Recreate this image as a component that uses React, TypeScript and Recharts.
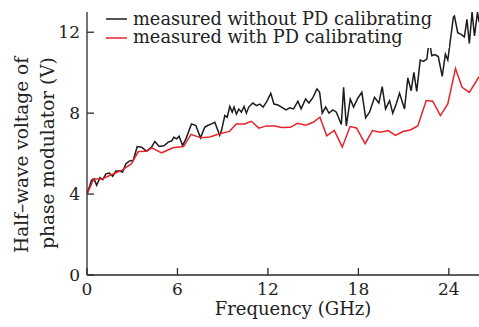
import { LineChart, Line, XAxis, YAxis, Legend } from "recharts";

// frequency (GHz) / half-wave voltage (V)
const withoutFreq = [0, 0.3, 0.46, 0.64, 0.86, 1.04, 1.26, 1.48, 1.7, 1.92, 2.14, 2.36, 2.58, 2.8, 3.07, 3.33, 3.62, 3.95, 4.28, 4.5, 4.79, 5.1, 5.39, 5.6, 5.76, 5.95, 6.11, 6.34, 6.56, 6.93, 7.22, 7.53, 7.81, 8.0, 8.26, 8.48, 8.8, 8.92, 9.14, 9.3, 9.47, 9.63, 9.75, 9.91, 10.07, 10.24, 10.42, 10.57, 10.73, 11.0, 11.24, 11.46, 11.68, 11.9, 12.19, 12.4, 12.67, 12.9, 13.2, 13.45, 13.7, 13.99, 14.2, 14.5, 14.72, 14.99, 15.25, 15.43, 15.6, 15.83, 16.05, 16.31, 16.54, 16.87, 17.02, 17.2, 17.46, 17.68, 17.97, 18.23, 18.48, 18.74, 19.07, 19.36, 19.58, 19.8, 20.07, 20.28, 20.51, 20.73, 21.06, 21.28, 21.5, 21.68, 21.87, 22.1, 22.32, 22.54, 22.7, 22.87, 23.08, 23.3, 23.56, 23.77, 23.93, 24.3, 24.37, 24.59, 24.84, 25.03, 25.2, 25.36, 25.54, 25.7, 25.9, 26];
const withoutVolt = [4.0, 4.68, 4.76, 4.43, 4.81, 4.71, 5.0, 5.04, 4.88, 5.14, 5.14, 5.09, 5.5, 5.63, 5.67, 6.35, 6.32, 6.12, 6.32, 6.6, 6.35, 6.39, 6.57, 6.62, 6.81, 6.73, 6.86, 6.4, 6.73, 7.47, 7.39, 6.78, 7.3, 7.39, 7.47, 7.55, 6.9, 7.14, 7.88, 7.8, 8.33, 8.05, 8.3, 7.96, 8.2, 8.05, 8.33, 8.0, 8.3, 8.5, 8.37, 8.45, 8.3, 8.54, 8.98, 8.45, 8.4, 8.3, 8.16, 8.26, 8.21, 8.59, 8.21, 8.7, 8.5, 8.78, 9.2, 9.03, 8.0, 8.3, 8.0, 8.16, 8.05, 7.44, 9.28, 7.37, 8.7, 8.3, 8.75, 9.03, 7.77, 8.05, 8.78, 8.5, 9.31, 8.21, 8.62, 8.0, 8.45, 8.98, 8.21, 9.74, 9.11, 10.02, 9.08, 10.62, 10.56, 10.67, 11.6, 10.84, 10.9, 10.8, 9.82, 10.92, 10.62, 12.75, 12.8, 11.98, 11.88, 11.77, 12.64, 11.44, 13.0, 11.82, 13.0, 12.5];

const withFreq = [0, 0.45, 1.0, 1.5, 2.3, 2.95, 3.4, 3.95, 4.3, 4.95, 5.7, 6.4, 6.9, 7.55, 8.15, 8.8, 9.45, 9.9, 10.45, 10.9, 11.4, 11.9, 12.45, 12.9, 13.5, 13.95, 14.5, 15.0, 15.45, 15.9, 16.4, 16.93, 17.45, 17.87, 18.45, 18.93, 19.45, 19.98, 20.46, 20.95, 21.44, 21.94, 22.5, 22.93, 23.44, 23.93, 24.44, 24.88, 25.36, 26];
const withVolt = [4.0, 4.75, 4.74, 4.92, 5.17, 5.5, 6.1, 6.12, 6.28, 6.04, 6.29, 6.35, 6.95, 6.78, 6.82, 6.98, 7.1, 7.47, 7.47, 7.6, 7.26, 7.37, 7.37, 7.29, 7.3, 7.5, 7.4, 7.55, 7.8, 6.88, 7.15, 6.32, 7.34, 7.27, 6.49, 7.14, 7.06, 7.14, 6.9, 7.09, 7.17, 7.37, 8.62, 8.59, 7.88, 8.46, 10.21, 9.28, 9.03, 9.8];

const xTicks = [0, 6, 12, 18, 24];
const yTicks = [0, 4, 8, 12];

const seriesNames = ["measured without PD calibrating", "measured with PD calibrating"];
const seriesColors = ["#1c1c1c", "#e8232b"];

const withoutData = withoutFreq.map((f, i) => ({ f, v: withoutVolt[i] }));
const withData = withFreq.map((f, i) => ({ f, v: withVolt[i] }));

const FONT = "'DejaVu Serif', serif";
const AXIS = "#2a2a2a";
const INK = "#222";

function LegendBox() {
  return (
    <svg width={345} height={48} style={{ display: "block", background: "#fff" }}>
      {seriesNames.map((n, i) => (
        <g key={n}>
          <line x1={2} x2={23} y1={19 + i * 19} y2={19 + i * 19} stroke={seriesColors[i]} strokeWidth={1.5} />
          <text x={29} y={25 + i * 18} fontFamily={FONT} fontSize={17.8} fill={INK}>{n}</text>
        </g>
      ))}
    </svg>
  );
}

export default function App() {
  return (
    <div style={{ position: "absolute", left: 0, top: 0, width: 479, height: 327, background: "#fff" }}>
      <LineChart width={479} height={327} margin={{ top: 12, right: 0, left: 0, bottom: 0 }}>
        <XAxis
          type="number"
          dataKey="f"
          domain={[0, 26]}
          ticks={xTicks}
          allowDataOverflow
          height={52}
          tickSize={-7}
          tickMargin={15}
          stroke={AXIS}
          strokeWidth={1.3}
          tick={{ fontFamily: FONT, fontSize: 17, fill: INK }}
          label={{
            content: () => (
              <text x={293} y={315} textAnchor="middle" fontFamily={FONT} fontSize={18} fill={INK}>
                Frequency (GHz)
              </text>
            ),
          }}
        />
        <YAxis
          type="number"
          domain={[0, 13]}
          ticks={yTicks}
          width={87}
          tickSize={-7}
          tickMargin={14}
          stroke={AXIS}
          strokeWidth={1.3}
          tick={{ fontFamily: FONT, fontSize: 17, fill: INK }}
          label={{
            content: () => (
              <g fontFamily={FONT} fontSize={18.5} fill={INK} textAnchor="middle">
                <text transform="translate(28,155) rotate(-90)">Half–wave voltage of</text>
                <text transform="translate(54,153) rotate(-90)">phase modulator (V)</text>
              </g>
            ),
          }}
        />
        <Legend
          layout="vertical"
          align="center"
          verticalAlign="middle"
          wrapperStyle={{ top: 0, left: 104, width: 345, height: 48 }}
          content={() => <LegendBox />}
        />
        <Line data={withoutData} dataKey="v" name={seriesNames[0]} stroke={seriesColors[0]} strokeWidth={1.5} dot={false} isAnimationActive={false} />
        <Line data={withData} dataKey="v" name={seriesNames[1]} stroke={seriesColors[1]} strokeWidth={1.5} dot={false} isAnimationActive={false} />
      </LineChart>
    </div>
  );
}
